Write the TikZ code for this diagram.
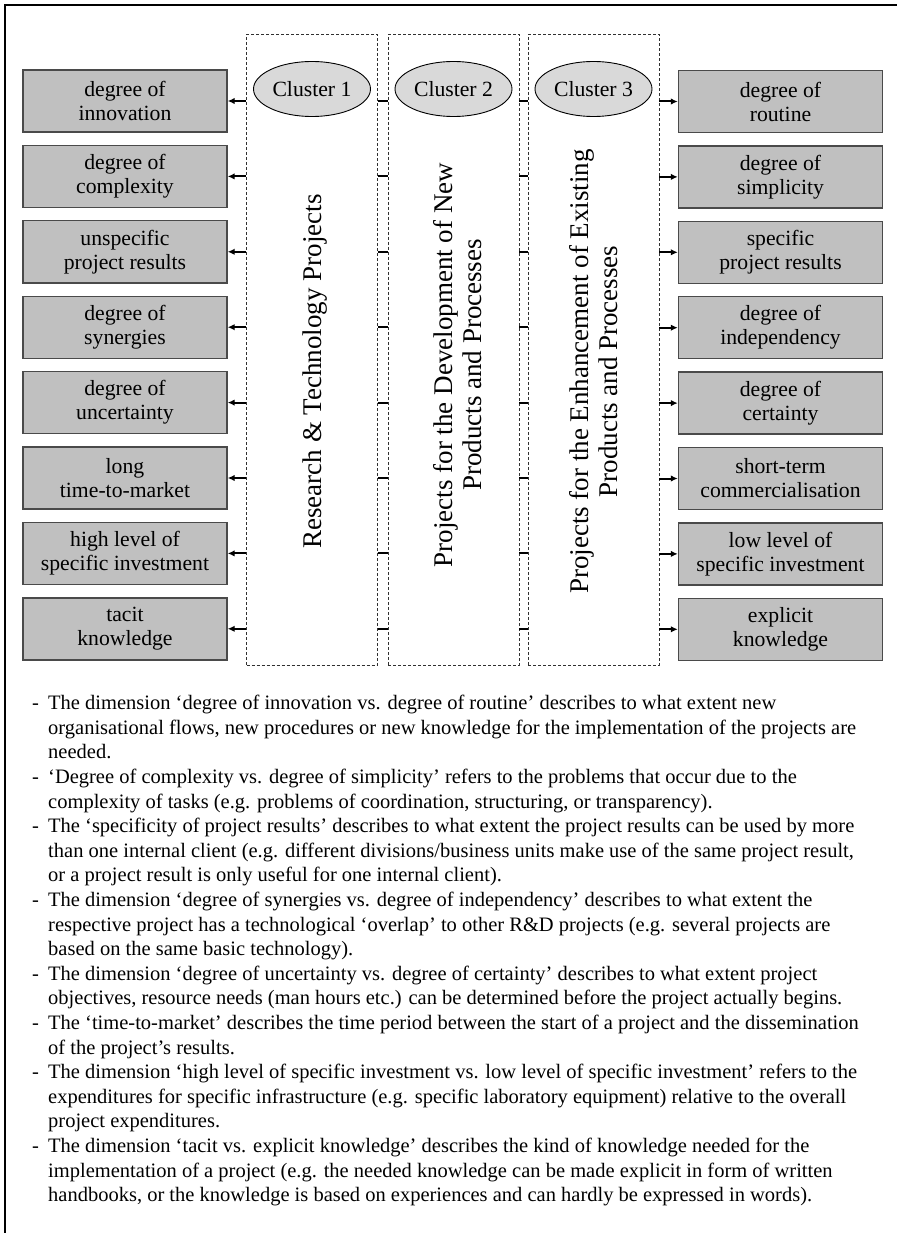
\documentclass[tikz,border=0pt]{standalone}
\usepackage{fontspec}
\setmainfont{Liberation Serif}
\usetikzlibrary{arrows.meta,shapes.geometric}
\definecolor{boxfill}{HTML}{C0C0C0}
\definecolor{boxline}{HTML}{4A4A4A}
\definecolor{ovalfill}{HTML}{D9D9D9}
\definecolor{dashline}{HTML}{303030}
\newcommand\dashitem[1]{\makebox[16pt][l]{-}#1}
\newcommand\contline[1]{\hspace*{16pt}#1}
\begin{document}
\begin{tikzpicture}[x=1pt,y=-1pt,
  dimbox/.style={rectangle,draw=boxline,fill=boxfill,line width=1.4pt,
    minimum width=204pt,minimum height=62pt,inner sep=0pt,align=center,
    font=\fontsize{21.7}{24}\selectfont},
  column/.style={rectangle,draw=dashline,line width=0.9pt,
    dash pattern=on 3pt off 2pt,minimum width=131pt,minimum height=630.5pt,inner sep=0pt},
  cluster/.style={ellipse,draw=black,line width=0.9pt,fill=ovalfill,
    minimum width=117pt,minimum height=55pt,inner sep=0pt,
    font=\fontsize{21.7}{24}\selectfont},
  coltext/.style={rotate=90,align=center,inner sep=0pt,
    font=\fontsize{27}{29}\selectfont},
  outarrow/.style={line width=2pt,-{Latex[length=7pt,width=6.5pt]}},
  link/.style={line width=2pt},
  notes/.style={anchor=north west,inner sep=0pt,align=left,
    font=\fontsize{20.5}{24.6}\selectfont}]
\useasboundingbox (0,0) rectangle (897,1233);
% frame
\draw[line width=2.5pt] (5,1233) -- (5,5) -- (897,5);

% the three project clusters
\node[column] (C1) at (312,349.75) {};
\node[column] (C2) at (453.5,349.75) {};
\node[column] (C3) at (593.5,349.75) {};
\node[cluster] (E1) at (312,89) {Cluster 1};
\node[cluster] (E2) at (453.5,89) {Cluster 2};
\node[cluster] (E3) at (593.5,89) {Cluster 3};
\node[coltext] (T1) at (315,371.5) {Research \& Technology Projects};
\node[coltext] (T2) at (458,365) {Projects for the Development of New\\Products and Processes};
\node[coltext] (T3) at (593.5,371.5) {Projects for the Enhancement of Existing\\Products and Processes};

% project dimensions
\foreach \i/\lt/\rt in {
  0/{degree of\\innovation}/{degree of\\routine},
  1/{degree of\\complexity}/{degree of\\simplicity},
  2/{unspecific\\project results}/{specific\\project results},
  3/{degree of\\synergies}/{degree of\\independency},
  4/{degree of\\uncertainty}/{degree of\\certainty},
  5/{long\\time-to-market}/{short-term\\commercialisation},
  6/{high level of\\specific investment}/{low level of\\specific investment},
  7/{tacit\\knowledge}/{explicit\\knowledge}} {
  \node[dimbox] (L\i) at (125,{101+75.4*\i}) {\lt};
  \node[dimbox] (R\i) at (780.5,{101.5+75.4*\i}) {\rt};
  \draw[outarrow] (C1.west |- L\i.east) -- (L\i.east);
  \draw[link] (C1.east |- L\i.east) -- (C2.west |- L\i.east);
  \draw[link] (C2.east |- L\i.east) -- (C3.west |- L\i.east);
  \draw[outarrow] (C3.east |- R\i.west) -- (R\i.west);
}

% explanations
\node[notes] (N) at (32,695) {%
\dashitem{The dimension ‘degree of innovation vs. degree of routine’ describes to what extent new}\\
\contline{organisational flows, new procedures or new knowledge for the implementation of the projects are}\\
\contline{needed.}\\
\dashitem{‘Degree of complexity vs. degree of simplicity’ refers to the problems that occur due to the}\\
\contline{complexity of tasks (e.g. problems of coordination, structuring, or transparency).}\\
\dashitem{The ‘specificity of project results’ describes to what extent the project results can be used by more}\\
\contline{than one internal client (e.g. different divisions/business units make use of the same project result,}\\
\contline{or a project result is only useful for one internal client).}\\
\dashitem{The dimension ‘degree of synergies vs. degree of independency’ describes to what extent the}\\
\contline{respective project has a technological ‘overlap’ to other R\&D projects (e.g. several projects are}\\
\contline{based on the same basic technology).}\\
\dashitem{The dimension ‘degree of uncertainty vs. degree of certainty’ describes to what extent project}\\
\contline{objectives, resource needs (man hours etc.) can be determined before the project actually begins.}\\
\dashitem{The ‘time-to-market’ describes the time period between the start of a project and the dissemination}\\
\contline{of the project’s results.}\\
\dashitem{The dimension ‘high level of specific investment vs. low level of specific investment’ refers to the}\\
\contline{expenditures for specific infrastructure (e.g. specific laboratory equipment) relative to the overall}\\
\contline{project expenditures.}\\
\dashitem{The dimension ‘tacit vs. explicit knowledge’ describes the kind of knowledge needed for the}\\
\contline{implementation of a project (e.g. the needed knowledge can be made explicit in form of written}\\
\contline{handbooks, or the knowledge is based on experiences and can hardly be expressed in words).}};
\end{tikzpicture}
\end{document}
